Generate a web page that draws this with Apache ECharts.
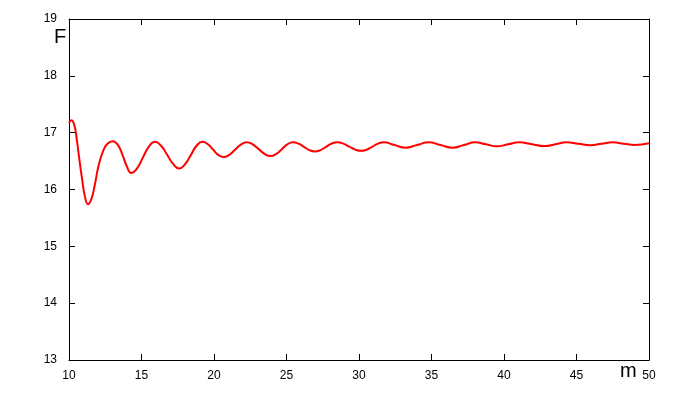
<!DOCTYPE html>
<html>
<head>
<meta charset="utf-8">
<script src="https://cdn.jsdelivr.net/npm/echarts@6/dist/echarts.min.js"></script>
<style>
  html, body { margin: 0; padding: 0; background: #fff; }
  #chart { width: 700px; height: 400px; }
</style>
</head>
<body>
<div id="chart"></div>
<script>
// values
const mValues = [
  10.0, 10.16, 10.37, 10.53, 10.71, 10.9, 11.08, 11.31, 11.54, 11.77, 12.05, 12.37, 12.67,
  13.01, 13.36, 13.7, 14.0, 14.28, 14.69, 15.1, 15.52, 15.93, 16.35, 16.76, 17.18, 17.59,
  17.99, 18.4, 18.8, 19.2, 19.56, 19.93, 20.29, 20.65, 21.05, 21.45, 21.85, 22.25,
  22.66, 23.08, 23.49, 23.9, 24.29, 24.68, 25.06, 25.45, 25.83, 26.2, 26.58, 26.95,
  27.34, 27.73, 28.11, 28.5, 28.91, 29.33, 29.74, 30.15, 30.54, 30.93, 31.31, 31.7,
  32.45, 33.2, 34.0, 34.8, 35.63, 36.45, 37.23, 38.0, 38.75, 39.5, 40.28, 41.05,
  41.93, 42.8, 43.55, 44.3, 45.13, 45.95, 46.73, 47.5, 48.25, 49.0, 50.0
];
const fValues = [
  17.17, 17.22, 17.13, 16.89, 16.54, 16.19, 15.9, 15.74, 15.83, 16.07, 16.43, 16.69, 16.81,
  16.85, 16.79, 16.6, 16.4, 16.29, 16.37, 16.565, 16.76, 16.84, 16.77, 16.615, 16.45, 16.37,
  16.44, 16.605, 16.77, 16.84, 16.8, 16.705, 16.61, 16.57, 16.61, 16.7, 16.79, 16.83,
  16.795, 16.71, 16.625, 16.59, 16.625, 16.71, 16.795, 16.83, 16.807, 16.75, 16.693, 16.67,
  16.693, 16.75, 16.807, 16.83, 16.808, 16.755, 16.702, 16.68, 16.702, 16.755, 16.808, 16.83,
  16.782, 16.735, 16.782, 16.83, 16.782, 16.735, 16.782, 16.83, 16.795, 16.76, 16.795, 16.83,
  16.797, 16.765, 16.797, 16.83, 16.805, 16.78, 16.805, 16.83, 16.807, 16.785, 16.815
];
const xTicks = [10, 15, 20, 25, 30, 35, 40, 45, 50];
const yTicks = [13, 14, 15, 16, 17, 18, 19];

const chart = echarts.init(document.getElementById("chart"));
const labelFont = { color: "#000", fontSize: 12, fontFamily: "Liberation Sans" };
const lineStyle = { color: "#000", width: 1 };
const tick = { show: true, inside: true, length: 6, lineStyle: lineStyle };

chart.setOption({
  animation: false,
  backgroundColor: "#fff",
  grid: { left: 69, right: 51, top: 19, bottom: 40 },
  xAxis: [
    {
      type: "value",
      min: xTicks[0],
      max: xTicks[xTicks.length - 1],
      interval: 5,
      axisLine: { show: true, onZero: false, lineStyle: lineStyle },
      axisTick: tick,
      axisLabel: Object.assign({ margin: 10 }, labelFont),
      splitLine: { show: false }
    },
    {
      type: "value",
      position: "top",
      min: xTicks[0],
      max: xTicks[xTicks.length - 1],
      interval: 5,
      axisLine: { show: true, onZero: false, lineStyle: lineStyle },
      axisTick: tick,
      axisLabel: { show: false },
      splitLine: { show: false }
    }
  ],
  yAxis: [
    {
      type: "value",
      min: yTicks[0],
      max: yTicks[yTicks.length - 1],
      interval: 1,
      axisLine: { show: true, onZero: false, lineStyle: lineStyle },
      axisTick: tick,
      axisLabel: Object.assign({ margin: 12 }, labelFont),
      splitLine: { show: false }
    },
    {
      type: "value",
      position: "right",
      min: yTicks[0],
      max: yTicks[yTicks.length - 1],
      interval: 1,
      axisLine: { show: true, onZero: false, lineStyle: lineStyle },
      axisTick: tick,
      axisLabel: { show: false },
      splitLine: { show: false }
    }
  ],
  graphic: [
    {
      type: "text",
      left: 54,
      top: 27,
      style: { text: "F", fill: "#000", fontSize: 20, fontFamily: "Liberation Sans" }
    },
    {
      type: "text",
      left: 620,
      top: 361,
      style: { text: "m", fill: "#000", fontSize: 20, fontFamily: "Liberation Sans" }
    }
  ],
  series: [
    {
      type: "line",
      data: mValues.map((m, i) => [m, fValues[i]]),
      smooth: 0.5,
      symbol: "none",
      lineStyle: { color: "#ff0000", width: 2 },
      z: 5
    }
  ]
});
</script>
</body>
</html>
